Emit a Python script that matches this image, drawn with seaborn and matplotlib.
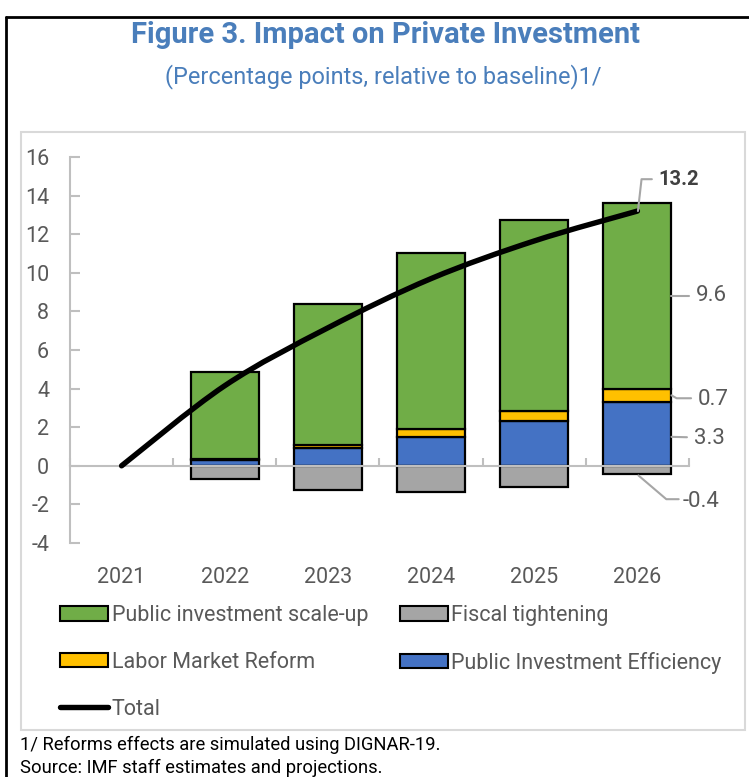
import numpy as np
import pandas as pd
import matplotlib
matplotlib.use("Agg")
import matplotlib.pyplot as plt
from matplotlib.path import Path
from matplotlib.patches import PathPatch, Rectangle, Patch
from matplotlib.lines import Line2D
import seaborn as sns

# ---- data -------------------------------------------------------------
years = ["2021", "2022", "2023", "2024", "2025", "2026"]
bar_years = ["2022", "2023", "2024", "2025", "2026"]
efficiency = [0.3, 0.9, 1.5, 2.3, 3.3]          # Public Investment Efficiency
labor = [0.05, 0.2, 0.4, 0.55, 0.7]             # Labor Market Reform
scale_up = [4.5, 7.3, 9.15, 9.9, 9.6]           # Public investment scale-up
tightening = [-0.7, -1.25, -1.35, -1.1, -0.4]   # Fiscal tightening
total = [0.0, 4.15, 7.15, 9.7, 11.65, 13.2]     # Total
yticks = [-4, -2, 0, 2, 4, 6, 8, 10, 12, 14, 16]

# ---- style ------------------------------------------------------------
sns.set_theme(style="white")
plt.rcParams["font.family"] = ["Roboto", "DejaVu Sans"]

GREEN, GRAY, YELLOW, BLUE = "#70AD47", "#A5A5A5", "#FFC000", "#4472C4"
AXIS_GRAY = "#BFBFBF"
TEXT_GRAY = "#595959"
TITLE_BLUE = "#4A7EBB"
TICK_FS = 15.5

W, H = 749, 777
fig = plt.figure(figsize=(W / 100, H / 100), dpi=100)


def fx(px):
    return px / W


def fy(py):
    return 1 - py / H


ax = fig.add_axes([fx(70), fy(543), fx(689) - fx(70), fy(157) - fy(543)])

df = pd.DataFrame({"year": bar_years, "efficiency": efficiency, "labor": labor,
                   "scale_up": scale_up, "tightening": tightening})
bottom_labor = np.array(efficiency)
bottom_scale = bottom_labor + np.array(labor)

common = dict(order=years, width=0.66, edgecolor="black", linewidth=1.6,
              errorbar=None, saturation=1, ax=ax, zorder=2)
sns.barplot(data=df, x="year", y="efficiency", color=BLUE, **common)
sns.barplot(data=df, x="year", y="labor", color=YELLOW, bottom=bottom_labor, **common)
sns.barplot(data=df, x="year", y="scale_up", color=GREEN, bottom=bottom_scale, **common)
sns.barplot(data=df, x="year", y="tightening", color=GRAY, **common)

# smoothed total line (Catmull-Rom style cubic Bezier through the points)
xs = np.arange(len(years), dtype=float)
ys = np.array(total, dtype=float)
n = len(xs)
verts = [(xs[0], ys[0])]
codes = [Path.MOVETO]
for i in range(n - 1):
    p0 = np.array([xs[max(i - 1, 0)], ys[max(i - 1, 0)]])
    p1 = np.array([xs[i], ys[i]])
    p2 = np.array([xs[i + 1], ys[i + 1]])
    p3 = np.array([xs[min(i + 2, n - 1)], ys[min(i + 2, n - 1)]])
    c1 = p1 + (p2 - p0) / 6
    c2 = p2 - (p3 - p1) / 6
    verts += [tuple(c1), tuple(c2), tuple(p2)]
    codes += [Path.CURVE4] * 3
ax.add_patch(PathPatch(Path(verts, codes), facecolor="none", edgecolor="black",
                       lw=3.9, capstyle="round", zorder=4))

# ---- axes -------------------------------------------------------------
ax.set_xlim(-0.5, 5.5)
ax.set_ylim(-4, 16)
ax.set_yticks(yticks)
ax.set_yticklabels([str(t) for t in yticks])
ax.set_xlabel("")
ax.set_ylabel("")
for s in ["top", "right"]:
    ax.spines[s].set_visible(False)
ax.spines["left"].set_color(AXIS_GRAY)
ax.spines["left"].set_linewidth(1.5)
ax.spines["bottom"].set_position(("data", 0))
ax.spines["bottom"].set_color(AXIS_GRAY)
ax.spines["bottom"].set_linewidth(1.5)
ax.spines["bottom"].set_zorder(3)
ax.tick_params(axis="y", direction="in", length=7, width=1.5, color=AXIS_GRAY,
               labelcolor=TEXT_GRAY, labelsize=TICK_FS, pad=15, left=True)
ax.set_xticks(np.arange(-0.5, 6.0, 1.0), minor=True)
ax.tick_params(axis="x", which="minor", direction="in", length=6, width=1.5,
               color=AXIS_GRAY, bottom=True)
ax.tick_params(axis="x", which="major", length=0, labelcolor=TEXT_GRAY,
               labelsize=TICK_FS, pad=73)

# ---- value call-outs for 2026 ----------------------------------------
lead = dict(color="#A6A6A6", lw=1.5, clip_on=False, zorder=5)
num = dict(color=TEXT_GRAY, fontsize=16, va="center", ha="left", clip_on=False)
last = len(bar_years) - 1
xc = 5.0
edge = xc + 0.33

ax.plot([xc + 0.005, 5.04, 5.14], [total[-1], 14.85, 14.85], **lead)
ax.text(5.2, 14.85, f"{total[-1]:.1f}", color="#404040", fontsize=14.5,
        fontweight="bold", va="center", ha="left")

y_green = bottom_scale[last] + scale_up[last] / 2
ax.plot([edge, 5.5], [y_green, y_green], **lead)
ax.text(5.565, y_green, f"{scale_up[last]:.1f}", **num)

y_yellow = bottom_labor[last] + labor[last] / 2
ax.plot([edge, 5.38, 5.52], [y_yellow, 3.5, 3.5], **lead)
ax.text(5.585, 3.45, f"{labor[last]:.1f}", **num)

ax.plot([edge, 5.48], [1.5, 1.48], **lead)
ax.text(5.545, 1.42, f"{efficiency[last]:.1f}", **num)

ax.plot([5.01, 5.28, 5.40], [tightening[last] - 0.1, -1.73, -1.73], **lead)
ax.text(5.44, -1.85, f"{tightening[last]:.1f}", **num)

# ---- legend -----------------------------------------------------------
handles = [
    Patch(facecolor=GREEN, edgecolor="black", lw=1.5),
    Patch(facecolor=YELLOW, edgecolor="black", lw=1.5),
    Line2D([0], [0], color="black", lw=3.9, solid_capstyle="round"),
    Patch(facecolor=GRAY, edgecolor="black", lw=1.5),
    Patch(facecolor=BLUE, edgecolor="black", lw=1.5),
]
labels = ["Public investment scale-up", "Labor Market Reform", "Total",
          "Fiscal tightening", "Public Investment Efficiency"]
fig.legend(handles, labels, loc="upper left", bbox_to_anchor=(fx(60), fy(605)),
           ncol=2, frameon=False, fontsize=15.5, handlelength=2.23,
           handleheight=0.65, handletextpad=0.18, columnspacing=1.45,
           labelspacing=1.2, borderpad=0, borderaxespad=0, labelcolor=TEXT_GRAY)

# ---- titles, frame and notes -----------------------------------------
fig.text(fx(385), fy(35), "Figure 3. Impact on Private Investment", ha="center",
         va="center", fontsize=21, fontweight="bold", color=TITLE_BLUE)
fig.text(fx(383), fy(77), "(Percentage points, relative to baseline)1/",
         ha="center", va="center", fontsize=16.9, color=TITLE_BLUE)

fig.patches.append(Rectangle((fx(21), fy(730)), fx(745) - fx(21), fy(132) - fy(730),
                             transform=fig.transFigure, facecolor="none",
                             edgecolor="#D9D9D9", lw=1.5))
fig.lines.append(Line2D([fx(6), 1], [fy(17), fy(17)], transform=fig.transFigure,
                        color="black", lw=2))
fig.lines.append(Line2D([fx(6), fx(6)], [fy(17), 0], transform=fig.transFigure,
                        color="black", lw=2))

fig.text(fx(20), fy(745), "1/ Reforms effects are simulated using DIGNAR-19.",
         ha="left", va="center", fontsize=13.2, color="black")
fig.text(fx(20), fy(768), "Source: IMF staff estimates and projections.",
         ha="left", va="center", fontsize=13.2, color="black")

fig.savefig("out.png", dpi=100)
